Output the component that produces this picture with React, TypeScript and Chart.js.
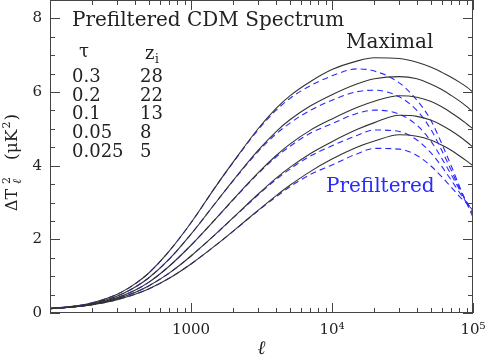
import React, { useEffect, useRef } from "react";
import { Chart, registerables } from "chart.js";

Chart.register(...registerables);

const ELL = [100, 150, 200, 300, 400, 500, 700, 1000, 1500, 2000, 3000, 4000, 5000, 7000, 10000, 15000, 20000, 30000, 40000, 50000, 60000, 70000, 80000, 90000, 100000];

// Maximal (solid) spectra, tau = 0.3, 0.2, 0.1, 0.05, 0.025
const MAX_1 = [0.12, 0.19, 0.28, 0.51, 0.79, 1.08, 1.68, 2.45, 3.44, 4.11, 5.01, 5.55, 5.89, 6.28, 6.61, 6.84, 6.93, 6.91, 6.81, 6.68, 6.54, 6.4, 6.27, 6.14, 6.0];
const MAX_2 = [0.12, 0.18, 0.26, 0.46, 0.7, 0.95, 1.46, 2.14, 3.0, 3.61, 4.42, 4.92, 5.24, 5.62, 5.93, 6.22, 6.36, 6.42, 6.36, 6.22, 6.07, 5.91, 5.76, 5.61, 5.46];
const MAX_3 = [0.12, 0.173, 0.242, 0.418, 0.618, 0.831, 1.27, 1.84, 2.56, 3.09, 3.81, 4.27, 4.58, 4.96, 5.27, 5.58, 5.75, 5.9, 5.86, 5.75, 5.6, 5.44, 5.29, 5.14, 5.0];
const MAX_4 = [0.12, 0.169, 0.232, 0.39, 0.559, 0.734, 1.084, 1.549, 2.147, 2.597, 3.231, 3.656, 3.947, 4.327, 4.653, 4.98, 5.17, 5.37, 5.34, 5.24, 5.1, 4.95, 4.8, 4.65, 4.5];
const MAX_5 = [0.12, 0.166, 0.222, 0.363, 0.507, 0.652, 0.944, 1.332, 1.842, 2.23, 2.792, 3.18, 3.461, 3.84, 4.18, 4.5, 4.67, 4.84, 4.8, 4.7, 4.56, 4.42, 4.27, 4.13, 4.0];

// Prefiltered (dashed) spectra
const PRE_1 = [0.12, 0.19, 0.28, 0.51, 0.79, 1.08, 1.68, 2.45, 3.44, 4.1, 4.98, 5.5, 5.82, 6.17, 6.44, 6.63, 6.57, 6.25, 5.78, 5.25, 4.6, 4.0, 3.45, 2.99, 2.6];
const PRE_2 = [0.12, 0.18, 0.26, 0.46, 0.7, 0.95, 1.46, 2.14, 3.0, 3.6, 4.39, 4.86, 5.15, 5.5, 5.78, 6.01, 6.05, 5.87, 5.5, 5.0, 4.42, 3.88, 3.4, 3.0, 2.68];
const PRE_3 = [0.12, 0.173, 0.242, 0.418, 0.618, 0.831, 1.27, 1.84, 2.56, 3.08, 3.79, 4.23, 4.52, 4.88, 5.14, 5.42, 5.51, 5.4, 5.1, 4.68, 4.2, 3.76, 3.36, 3.02, 2.74];
const PRE_4 = [0.12, 0.169, 0.232, 0.39, 0.559, 0.734, 1.084, 1.549, 2.147, 2.59, 3.21, 3.62, 3.9, 4.26, 4.54, 4.82, 4.97, 4.93, 4.7, 4.36, 3.98, 3.61, 3.28, 3.0, 2.78];
const PRE_5 = [0.12, 0.166, 0.222, 0.363, 0.507, 0.652, 0.944, 1.332, 1.842, 2.225, 2.78, 3.15, 3.42, 3.76, 4.02, 4.32, 4.47, 4.45, 4.28, 4.0, 3.7, 3.42, 3.17, 2.98, 2.82];

const MAXIMAL = [MAX_1, MAX_2, MAX_3, MAX_4, MAX_5];
const PREFILTERED = [PRE_1, PRE_2, PRE_3, PRE_4, PRE_5];

const X_TICKS = [1000, 10000, 100000];
const X_TICK_LABELS = ["1000", "10\u2074", "10\u2075"];
const X_MINOR = [200, 300, 400, 500, 600, 700, 800, 900, 2000, 3000, 4000, 5000, 6000, 7000, 8000, 9000, 20000, 30000, 40000, 50000, 60000, 70000, 80000, 90000];
const Y_TICKS = [0, 2, 4, 6, 8];
const Y_MINOR = [0.5, 1, 1.5, 2.5, 3, 3.5, 4.5, 5, 5.5, 6.5, 7, 7.5];

const TAU = ["0.3", "0.2", "0.1", "0.05", "0.025"];
const ZI = ["28", "22", "13", "8", "5"];

const FONT = "'DejaVu Serif', serif";
const BLUE = "#2a2aff";
const DARK = "#333333";

const decorPlugin = {
  id: "decor",
  afterDraw(chart: any) {
    const ctx = chart.ctx;
    const { left, right, top, bottom } = chart.chartArea;
    const xs = chart.scales.x;
    const ys = chart.scales.y;
    ctx.save();
    // frame
    ctx.strokeStyle = "#444";
    ctx.lineWidth = 1;
    ctx.strokeRect(left + 0.5, top + 0.5, right - left - 1, bottom - top - 1);
    // ticks
    ctx.beginPath();
    const tickX = (v: number, len: number) => {
      const px = Math.round(xs.getPixelForValue(v)) + 0.5;
      ctx.moveTo(px, bottom);
      ctx.lineTo(px, bottom - len);
      ctx.moveTo(px, top);
      ctx.lineTo(px, top + len);
    };
    const tickY = (v: number, len: number) => {
      const py = Math.round(ys.getPixelForValue(v)) + 0.5;
      ctx.moveTo(left, py);
      ctx.lineTo(left + len, py);
      ctx.moveTo(right, py);
      ctx.lineTo(right - len, py);
    };
    X_TICKS.forEach((v) => tickX(v, 10));
    X_MINOR.forEach((v) => tickX(v, 5));
    Y_TICKS.forEach((v) => tickY(v, 10));
    Y_MINOR.forEach((v) => tickY(v, 5));
    ctx.stroke();

    // texts
    ctx.fillStyle = "#222";
    ctx.textBaseline = "alphabetic";
    ctx.textAlign = "left";
    ctx.font = `20px ${FONT}`;
    ctx.fillText("Prefiltered CDM Spectrum", 72, 26);
    ctx.fillText("Maximal", 346, 48);
    ctx.fillStyle = BLUE;
    ctx.fillText("Prefiltered", 326, 192);

    ctx.fillStyle = "#222";
    ctx.font = `18px ${FONT}`;
    ctx.fillText("\u03c4", 79, 57);
    ctx.fillText("z", 145, 59);
    ctx.font = `12px ${FONT}`;
    ctx.fillText("i", 155, 63);
    ctx.font = `18px ${FONT}`;
    TAU.forEach((t, i) => {
      const yb = 82 + i * 18.7;
      ctx.fillText(t, 72, yb);
      ctx.fillText(ZI[i], 140, yb);
    });

    // x axis title
    ctx.font = `italic 19px ${FONT}`;
    ctx.textAlign = "center";
    ctx.fillText("\u2113", (left + right) / 2, 354);

    // y axis title (rotated)
    ctx.save();
    ctx.translate(17, 211);
    ctx.rotate(-Math.PI / 2);
    ctx.textAlign = "left";
    ctx.font = `16px ${FONT}`;
    ctx.fillText("\u0394T", 0, 0);
    ctx.font = `11px ${FONT}`;
    ctx.fillText("2", 27, -7);
    ctx.font = `italic 12px ${FONT}`;
    ctx.fillText("\u2113", 27, 4);
    ctx.font = `17px ${FONT}`;
    ctx.fillText("(\u03bcK", 51, 0);
    let x = 51 + ctx.measureText("(\u03bcK").width + 1;
    ctx.font = `11px ${FONT}`;
    ctx.fillText("2", x, -7);
    x += ctx.measureText("2").width + 1;
    ctx.font = `17px ${FONT}`;
    ctx.fillText(")", x, 0);
    ctx.restore();

    ctx.restore();
  },
};

export default function App() {
  const ref = useRef<HTMLCanvasElement | null>(null);

  useEffect(() => {
    if (!ref.current) return;
    const toPoints = (arr: number[]) => ELL.map((l, i) => ({ x: l, y: arr[i] }));
    const datasets: any[] = [];
    MAXIMAL.forEach((arr, i) => {
      datasets.push({
        label: `Maximal ${TAU[i]}`,
        data: toPoints(arr),
        borderColor: DARK,
        borderWidth: 1.1,
        pointRadius: 0,
        cubicInterpolationMode: "monotone",
        fill: false,
        order: 0,
      });
    });
    PREFILTERED.forEach((arr, i) => {
      datasets.push({
        label: `Prefiltered ${TAU[i]}`,
        data: toPoints(arr),
        borderColor: BLUE,
        borderWidth: 1.1,
        borderDash: [6, 4],
        pointRadius: 0,
        cubicInterpolationMode: "monotone",
        fill: false,
        order: 1,
      });
    });

    const chart = new Chart(ref.current, {
      type: "line",
      data: { datasets },
      options: {
        animation: false,
        responsive: false,
        devicePixelRatio: 1,
        layout: { padding: { left: 0, right: 12, top: 0, bottom: 0 } },
        plugins: { legend: { display: false }, tooltip: { enabled: false } },
        scales: {
          x: {
            type: "logarithmic",
            min: 100,
            max: 100000,
            border: { display: false },
            grid: { display: false, drawTicks: false },
            ticks: {
              padding: 8,
              color: "#222",
              font: { family: FONT, size: 15 },
              maxRotation: 0,
              autoSkip: false,
              callback: (_v: any, i: number) => X_TICK_LABELS[i],
            },
            afterBuildTicks: (scale: any) => {
              scale.ticks = X_TICKS.map((v) => ({ value: v }));
            },
            afterFit: (scale: any) => {
              scale.height = 44;
              scale.paddingLeft = 0;
              scale.paddingRight = 0;
            },
          },
          y: {
            type: "linear",
            min: 0,
            max: 8.5,
            border: { display: false },
            grid: { display: false, drawTicks: false },
            ticks: {
              padding: 8,
              color: "#222",
              font: { family: FONT, size: 15 },
            },
            afterBuildTicks: (scale: any) => {
              scale.ticks = Y_TICKS.map((v) => ({ value: v }));
            },
            afterFit: (scale: any) => {
              scale.width = 50;
              scale.paddingTop = 0;
              scale.paddingBottom = 0;
            },
          },
        },
      },
      plugins: [decorPlugin],
    });
    return () => chart.destroy();
  }, []);

  return (
    <div style={{ position: "fixed", left: 0, top: 0, width: 485, height: 357, background: "#fff" }}>
      <canvas ref={ref} width={485} height={357} style={{ display: "block" }} />
    </div>
  );
}
